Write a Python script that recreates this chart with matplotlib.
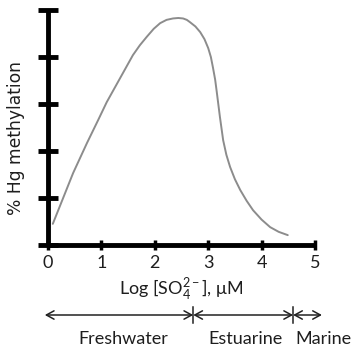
import matplotlib
matplotlib.use("Agg")
import matplotlib.pyplot as plt

plt.rcParams['font.family'] = ['Lato', 'DejaVu Sans']
plt.rcParams['mathtext.fontset'] = 'custom'
plt.rcParams['mathtext.rm'] = 'Lato'
plt.rcParams['mathtext.it'] = 'Lato:italic'

# Data
log_so4 = [0.09, 0.47, 0.73, 0.94, 1.10, 1.35, 1.59, 1.72, 1.85, 1.98, 2.10, 2.22, 2.34,
           2.44, 2.53, 2.60, 2.66, 2.76, 2.85, 2.93, 3.00, 3.05, 3.09, 3.13, 3.16, 3.19,
           3.22, 3.28, 3.34, 3.41, 3.50, 3.60, 3.72, 3.84, 4.00, 4.16, 4.32, 4.49]
pct_methylation = [0.45, 1.53, 2.17, 2.66, 3.04, 3.55, 4.04, 4.25, 4.43, 4.60, 4.72, 4.79, 4.82,
                   4.83, 4.82, 4.79, 4.74, 4.65, 4.53, 4.38, 4.19, 4.00, 3.77, 3.52, 3.26, 2.99,
                   2.72, 2.23, 1.92, 1.66, 1.40, 1.17, 0.94, 0.74, 0.54, 0.38, 0.28, 0.21]
x_ticks = [0, 1, 2, 3, 4, 5]
y_ticks = [0, 1, 2, 3, 4, 5]
regions = ["Freshwater", "Estuarine", "Marine"]
region_bounds = [-0.06, 2.72, 4.59, 5.13]
region_label_x = [1.41, 3.70, 5.16]

txt = '#1e1e1e'
fig = plt.figure(figsize=(3.64, 3.49), dpi=100)
ax = fig.add_axes([48/364, 104/349, 267/364, 235/349])

ax.plot(log_so4, pct_methylation, color='#8c8c8c', lw=1.4, solid_capstyle='round',
        solid_joinstyle='round')

ax.set_xlim(0, 5)
ax.set_ylim(0, 5)
for s in ['top', 'right']:
    ax.spines[s].set_visible(False)
for s in ['left', 'bottom']:
    ax.spines[s].set_linewidth(3.5)
    ax.spines[s].set_color('black')
    ax.spines[s].set_capstyle('butt')

ax.set_xticks(x_ticks)
ax.set_xticklabels([str(t) for t in x_ticks], fontsize=13, color=txt)
ax.set_yticks(y_ticks)
ax.set_yticklabels([])
ax.tick_params(axis='y', direction='inout', length=14, width=3.5, color='black')
ax.tick_params(axis='x', direction='inout', length=7, width=2.5, color='black', pad=4)

ax.set_xlabel("Log [SO$_4^{2-}$], μM", fontsize=13, color=txt, labelpad=4)
ax.set_ylabel("% Hg methylation", fontsize=12.3, color=txt,
              family='DejaVu Sans')
ax.yaxis.set_label_coords(-0.085, 0.455)

trans = ax.get_xaxis_transform()
arrow_y = -70/235
for i in range(len(regions)):
    ax.annotate('', xy=(region_bounds[i+1], arrow_y), xytext=(region_bounds[i], arrow_y),
                xycoords=trans, textcoords=trans, annotation_clip=False,
                arrowprops=dict(arrowstyle='<->,head_length=0.55,head_width=0.3',
                                color='#222222', lw=1.1, shrinkA=0, shrinkB=0))
for b in region_bounds[1:3]:
    ax.plot([b, b], [arrow_y - 8/235, arrow_y + 8/235], transform=trans,
            color='#222222', lw=1.1, clip_on=False)
for name, xl in zip(regions, region_label_x):
    ax.text(xl, -94/235, name, transform=trans, ha='center', va='center',
            fontsize=13, color=txt, clip_on=False)

fig.savefig('out.png', dpi=100)
